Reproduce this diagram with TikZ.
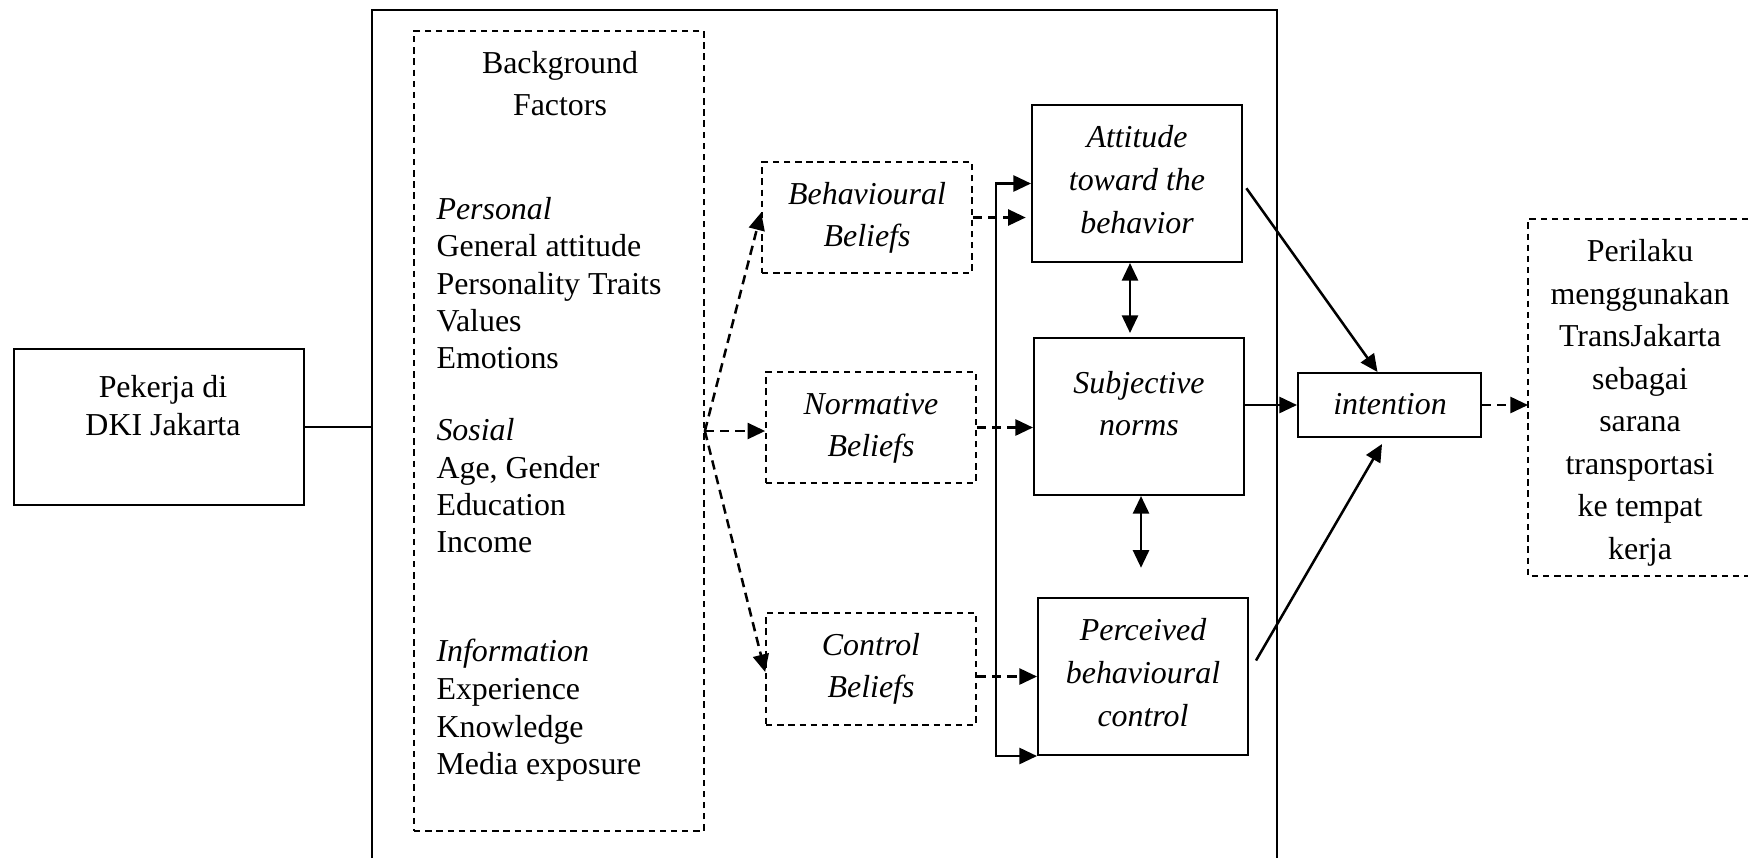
\documentclass[tikz,border=0pt]{standalone}
\usepackage{fontspec}
\setmainfont{Liberation Serif}
\usetikzlibrary{arrows.meta,calc}
\begin{document}
\begin{tikzpicture}[x=0.376pt,y=-0.376pt,
  font=\fontsize{12}{14}\selectfont,
  sbox/.style={draw,line width=0.75pt,inner sep=0pt},
  dbox/.style={draw,line width=0.65pt,dash pattern=on 2.4pt off 1.8pt,inner sep=0pt},
  sz/.style 2 args={minimum width=#1*0.376pt,minimum height=#2*0.376pt},
  txt/.style={align=center,inner sep=0pt},
  t14/.style={font=\fontsize{12}{14}\selectfont},
  t16/.style={font=\fontsize{12}{16}\selectfont},
  it16/.style={font=\fontsize{12}{16}\selectfont\itshape},
  tip/.tip={Triangle[length=6.6pt,width=6pt]},
  arr/.style={-tip,line width=0.95pt},
  darr/.style={arr,dash pattern=on 3.5pt off 2.2pt},
  darrb/.style={tip-tip,line width=0.95pt},
  bline/.style={anchor=base west,inner sep=0pt,font=\fontsize{12}{14}\selectfont}
]
\useasboundingbox (0,0) rectangle (1748,858);

% outer frame (open at the bottom)
\coordinate (fbl) at (372,858);
\coordinate (ftl) at (372,10);
\coordinate (ftr) at (1277,10);
\coordinate (fbr) at (1277,858);
\coordinate (fl) at (372,427);
\draw[line width=0.8pt] (fbl) -- (ftl) -- (ftr) -- (fbr);

% Pekerja
\node[sbox,sz={290}{156}] (pek) at (159,427) {};
\node[txt,t14] (pekt) at (163,409) {\strut Pekerja di\\\strut DKI Jakarta};
\draw[line width=0.75pt] (pek.east) -- (fl);

% Background factors
\node[dbox,sz={290}{800}] (bg) at (559,431) {};
\node[txt,t16] (bgt) at (560,86) {\strut Background\\\strut Factors};
\node[bline] (l1) at (436,219) {\itshape Personal};
\node[bline] (l2) at (436,256) {General attitude};
\node[bline] (l3) at (436,294) {Personality Traits};
\node[bline] (l4) at (436,331) {Values};
\node[bline] (l5) at (436,368) {Emotions};
\node[bline] (l6) at (436,440) {\itshape Sosial};
\node[bline] (l7) at (436,478) {Age, Gender};
\node[bline] (l8) at (436,515) {Education};
\node[bline] (l9) at (436,552) {Income};
\node[bline] (l10) at (436,661) {\itshape Information};
\node[bline] (l11) at (436,699) {Experience};
\node[bline] (l12) at (436,737) {Knowledge};
\node[bline] (l13) at (436,774) {Media exposure};

% beliefs
\node[dbox,sz={210}{111}] (bb) at (867,217.5) {};
\node[dbox,sz={210}{111}] (nb) at (871,427.5) {};
\node[dbox,sz={210}{112}] (cb) at (871,669) {};
\node[txt,it16] (bbt) at (867,217) {\strut Behavioural\\\strut Beliefs};
\node[txt,it16] (nbt) at (871,427) {\strut Normative\\\strut Beliefs};
\node[txt,it16] (cbt) at (871,668) {\strut Control\\\strut Beliefs};

% constructs
\node[sbox,sz={210}{157}] (att) at (1137,183.5) {};
\node[sbox,sz={210}{157}] (sn) at (1139,416.5) {};
\node[sbox,sz={210}{157}] (pbc) at (1143,676.5) {};
\node[sbox,sz={183}{64}] (int) at (1389.5,405) {};
\node[txt,it16] (attt) at (1137,182) {\strut Attitude\\\strut toward the\\\strut behavior};
\node[txt,it16] (snt) at (1139,406) {\strut Subjective\\\strut norms};
\node[txt,it16] (pbct) at (1143,675) {\strut Perceived\\\strut behavioural\\\strut control};
\node[txt,it16] (intt) at (1390,406) {\strut intention};

% behaviour box (open at the right)
\coordinate (ptr) at (1748,219);
\coordinate (ptl) at (1528,219);
\coordinate (pbl) at (1528,576);
\coordinate (pbr) at (1748,576);
\coordinate (plw) at (1528,405);
\draw[line width=0.65pt,dash pattern=on 2.4pt off 1.8pt] (ptr) -- (ptl) -- (pbl) -- (pbr);
\node[txt,t16] (plt) at (1640,402) {\strut Perilaku\\\strut menggunakan\\\strut TransJakarta\\\strut sebagai\\\strut sarana\\\strut transportasi\\\strut ke tempat\\\strut kerja};

% connectors
\draw[darr] (bg.east) -- ($(bb.west)+(0,-5)$);
\draw[darr] (bg.east) -- (bg.east -| nb.west);
\draw[darr] (bg.east) -- ($(cb.west)+(0,3)$);
\draw[darr,shorten >=2pt] (bb.east) -- (bb.east -| att.west);
\draw[darr] (nb.east) -- (nb.east -| sn.west);
\draw[darr] (pbc.west -| cb.east) -- (pbc.west);
\draw[darrb] (att.west) -- ++(-35,0) |- (pbc.south west);
\draw[darrb,shorten >=1.5pt] ($(att.south)+(-7,0)$) -- ($(att.south |- sn.north)+(-7,0)$);
\draw[darrb,shorten >=11pt] ($(sn.south)+(2,0)$) -- ($(sn.south |- pbc.north)+(2,0)$);
\draw[arr,shorten <=2.2pt] (att.east) -- ($(int.north)+(-12,0)$);
\draw[arr] ($(pbc.east)+(7,-16)$) -- ($(int.south)+(-7.5,6)$);
\draw[arr] (sn.east |- int.west) -- (int.west);
\draw[darr] (int.east) -- (plw);
\end{tikzpicture}
\end{document}
